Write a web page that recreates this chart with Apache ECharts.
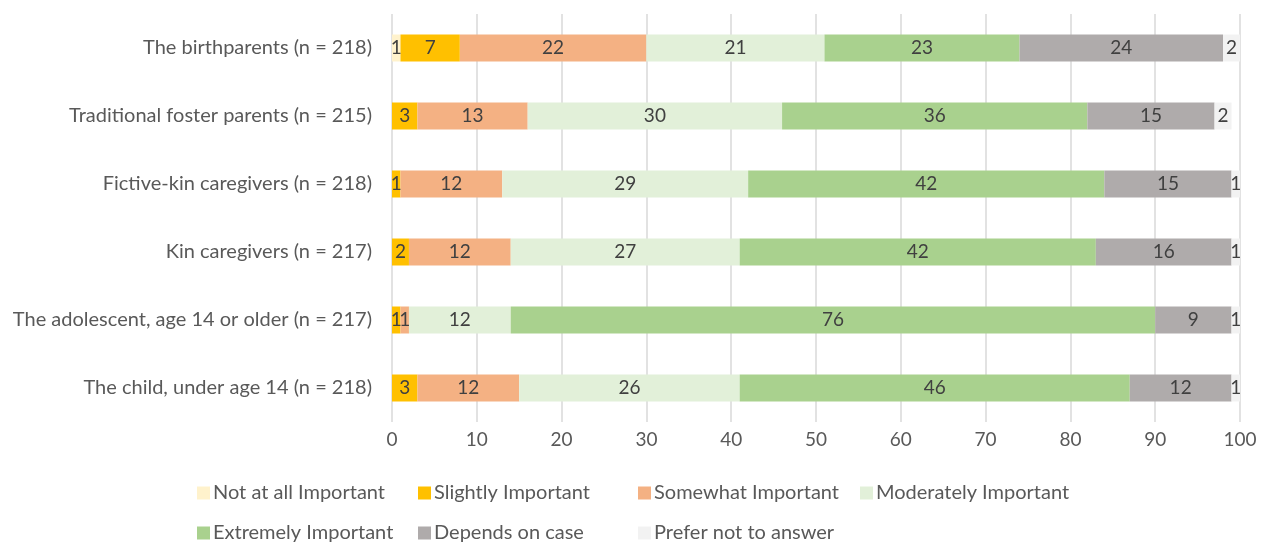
<!DOCTYPE html>
<html>
<head>
<meta charset="utf-8">
<script src="https://cdn.jsdelivr.net/npm/echarts@6/dist/echarts.min.js"></script>
<style>
  html, body { margin: 0; padding: 0; background: #fff; }
  #chart { width: 1266px; height: 546px; }
</style>
</head>
<body>
<div id="chart"></div>
<script>
// Groups, listed top to bottom
const categories = [
  'The birthparents (n = 218)',
  'Traditional foster parents (n = 215)',
  'Fictive-kin caregivers (n = 218)',
  'Kin caregivers (n = 217)',
  'The adolescent, age 14 or older (n = 217)',
  'The child, under age 14 (n = 218)'
];

// Percentages per response level, one entry per group
const notAtAll    = [1, 0, 0, 0, 0, 0];
const slightly    = [7, 3, 1, 2, 1, 3];
const somewhat    = [22, 13, 12, 12, 1, 12];
const moderately  = [21, 30, 29, 27, 12, 26];
const extremely   = [23, 36, 42, 42, 76, 46];
const dependsCase = [24, 15, 15, 16, 9, 12];
const preferNot   = [2, 2, 1, 1, 1, 1];

const xTicks = [0, 10, 20, 30, 40, 50, 60, 70, 80, 90, 100];

const seriesDefs = [
  ['Not at all Important', notAtAll, '#FFF2CC'],
  ['Slightly Important', slightly, '#FFC000'],
  ['Somewhat Important', somewhat, '#F4B183'],
  ['Moderately Important', moderately, '#E2F0D9'],
  ['Extremely Important', extremely, '#A9D18E'],
  ['Depends on case', dependsCase, '#AFABAB'],
  ['Prefer not to answer', preferNot, '#F2F2F2']
];

const FONT = 'Lato';

const series = seriesDefs.map(([name, values, color]) => ({
  name: name,
  type: 'bar',
  stack: 'total',
  barWidth: 27,
  data: values,
  itemStyle: { color: color },
  label: {
    show: true,
    position: 'inside',
    color: '#404040',
    fontFamily: FONT,
    fontSize: 19,
    formatter: p => (p.value > 0 ? String(p.value) : '')
  },
  emphasis: { disabled: true }
}));

// One legend block per entry so each can sit in its own column
const legendSlots = [
  [0, 192, 478], [1, 413, 478], [2, 633, 478], [3, 855, 478],
  [4, 192, 518], [5, 413, 518], [6, 633, 518]
];
const legends = legendSlots.map(([i, left, top]) => ({
  data: [seriesDefs[i][0]],
  left: left,
  top: top,
  itemWidth: 13,
  itemHeight: 13,
  itemGap: 0,
  icon: 'rect',
  selectedMode: false,
  textStyle: { color: '#595959', fontFamily: FONT, fontSize: 20, padding: [0, 0, 0, -2] }
}));

const chart = echarts.init(document.getElementById('chart'));
chart.setOption({
  animation: false,
  legend: legends,
  grid: { left: 392, right: 26, top: 14, bottom: 124, containLabel: false },
  xAxis: {
    type: 'value',
    min: xTicks[0],
    max: xTicks[xTicks.length - 1],
    interval: xTicks[1] - xTicks[0],
    axisLine: { show: false },
    axisTick: { show: false },
    splitLine: { show: true, lineStyle: { color: '#D9D9D9', width: 1.5 } },
    axisLabel: { color: '#595959', fontFamily: FONT, fontSize: 19, margin: 8 }
  },
  yAxis: {
    type: 'category',
    data: categories,
    inverse: true,
    axisLine: { show: false },
    axisTick: { show: false },
    axisLabel: { color: '#595959', fontFamily: FONT, fontSize: 20, margin: 20 }
  },
  series: series
});
</script>
</body>
</html>
